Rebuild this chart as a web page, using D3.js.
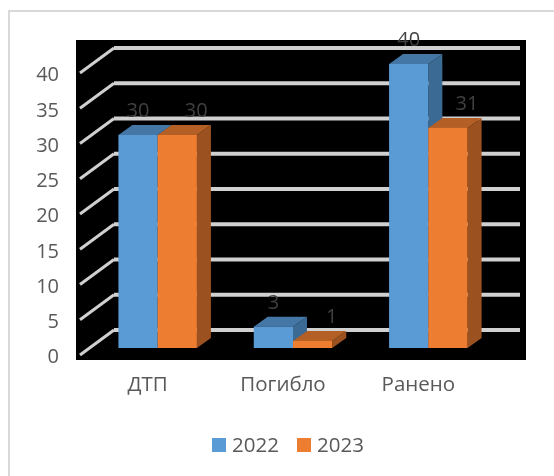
<!DOCTYPE html>
<meta charset="utf-8">
<script src="https://cdn.jsdelivr.net/npm/d3@7"></script>
<style type="text/css">
    body { margin: 0; background: #fff; }
    svg { filter: blur(0.4px); }
    text { font-family: "Open Sans", sans-serif; }
    .axis path, .axis line { display: none; }
    .axis text { fill: #595959; }
</style>
<body>
<script>
    var categories = ["ДТП", "Погибло", "Ранено"],
        years = ["2022", "2023"],
        values2022 = [30, 3, 40],
        values2023 = [30, 1, 31],
        yTicks = [0, 5, 10, 15, 20, 25, 30, 35, 40];

    var width = 554, height = 476;

    // depth of the fake 3d: wall and bars
    var wallDx = 34, wallDy = -25,
        barDx = 14, barDy = -10;

    var colors = {
        "2022": {front: "#5b9bd5", top: "#4577a6", side: "#3b6a94"},
        "2023": {front: "#ed7d31", top: "#b35f25", side: "#9c5220"}
    };

    var xScale = d3.scaleBand().domain(categories).range([90, 496]).paddingInner(0.42).paddingOuter(0.21),
        xSeries = d3.scaleBand().domain(years).range([0, xScale.bandwidth()]),
        yWall = d3.scaleLinear().domain([0, 40]).range([355, 73]),
        yBar = d3.scaleLinear().domain([0, 40]).range([348, 64]);

    var svg = d3.select("body").append("svg")
        .attr("width", width)
        .attr("height", height)
        .style("display", "block");

    // card border, runs off the right and bottom of the picture
    svg.append("rect")
        .attr("x", 9).attr("y", 11)
        .attr("width", 600).attr("height", 600)
        .attr("fill", "#fff")
        .attr("stroke", "#d9d9d9")
        .attr("stroke-width", 2);

    // black plot area
    svg.append("rect")
        .attr("x", 76).attr("y", 40)
        .attr("width", 450).attr("height", 320)
        .attr("fill", "#000");

    // gridlines on the back wall and the slanted ones on the side wall
    var grid = svg.append("g");
    grid.selectAll("line.back")
        .data(yTicks)
        .enter().append("line")
        .attr("class", "back")
        .attr("x1", 80 + wallDx)
        .attr("x2", 520)
        .attr("y1", function(d) { return yWall(d) + wallDy; })
        .attr("y2", function(d) { return yWall(d) + wallDy; })
        .attr("stroke", "#d0d0d0")
        .attr("stroke-width", 4);
    grid.selectAll("line.slant")
        .data(yTicks)
        .enter().append("line")
        .attr("class", "slant")
        .attr("x1", 80)
        .attr("x2", 80 + wallDx)
        .attr("y1", function(d) { return yWall(d); })
        .attr("y2", function(d) { return yWall(d) + wallDy; })
        .attr("stroke", "#d0d0d0")
        .attr("stroke-width", 3);

    // bars
    var barData = [];
    categories.forEach(function(c, i) {
        barData.push({category: c, year: "2022", value: values2022[i]});
        barData.push({category: c, year: "2023", value: values2023[i]});
    });

    function pts(list) {
        return list.map(function(p) { return p.join(","); }).join(" ");
    }

    var bars = svg.selectAll("g.bar")
        .data(barData)
        .enter().append("g")
        .attr("class", "bar");

    bars.append("polygon")
        .attr("fill", function(d) { return colors[d.year].side; })
        .attr("points", function(d) {
            var x1 = xScale(d.category) + xSeries(d.year) + xSeries.bandwidth();
            return pts([[x1, yBar(d.value)], [x1 + barDx, yBar(d.value) + barDy],
                [x1 + barDx, yBar(0) + barDy], [x1, yBar(0)]]);
        });
    bars.append("polygon")
        .attr("fill", function(d) { return colors[d.year].top; })
        .attr("points", function(d) {
            var x0 = xScale(d.category) + xSeries(d.year), x1 = x0 + xSeries.bandwidth();
            return pts([[x0, yBar(d.value)], [x0 + barDx, yBar(d.value) + barDy],
                [x1 + barDx, yBar(d.value) + barDy], [x1, yBar(d.value)]]);
        });
    bars.append("rect")
        .attr("x", function(d) { return xScale(d.category) + xSeries(d.year); })
        .attr("y", function(d) { return yBar(d.value); })
        .attr("width", xSeries.bandwidth())
        .attr("height", function(d) { return yBar(0) - yBar(d.value); })
        .attr("fill", function(d) { return colors[d.year].front; });

    // data labels, the 2023 ones sit over the side of the bar
    svg.selectAll("text.value")
        .data(barData)
        .enter().append("text")
        .attr("class", "value")
        .attr("x", function(d) {
            return xScale(d.category) + xSeries(d.year) + xSeries.bandwidth() / 2 + (d.year === "2023" ? 19 : 0);
        })
        .attr("y", function(d) { return yBar(d.value) - 18; })
        .attr("text-anchor", "middle")
        .style("font-size", "20px")
        .style("fill", "#404040")
        .text(function(d) { return d.value; });

    // axes
    svg.append("g")
        .attr("class", "axis")
        .attr("transform", "translate(62,1.5)")
        .call(d3.axisLeft(yWall).tickValues(yTicks).tickSize(0))
        .selectAll("text")
        .style("font-size", "20px");

    svg.append("g")
        .attr("class", "axis")
        .attr("transform", "translate(-10,373)")
        .call(d3.axisBottom(xScale).tickSize(0))
        .selectAll("text")
        .style("font-size", "20.5px");

    // legend
    var legendX = d3.scaleOrdinal().domain(years).range([212, 297]);
    var legend = svg.selectAll("g.legend")
        .data(years)
        .enter().append("g")
        .attr("class", "legend")
        .attr("transform", function(d) { return "translate(" + legendX(d) + ",438)"; });
    legend.append("rect")
        .attr("width", 14)
        .attr("height", 14)
        .attr("fill", function(d) { return colors[d].front; });
    legend.append("text")
        .attr("x", 20)
        .attr("y", 14)
        .style("font-size", "20.5px")
        .style("fill", "#595959")
        .text(function(d) { return d; });
</script>
</body>
